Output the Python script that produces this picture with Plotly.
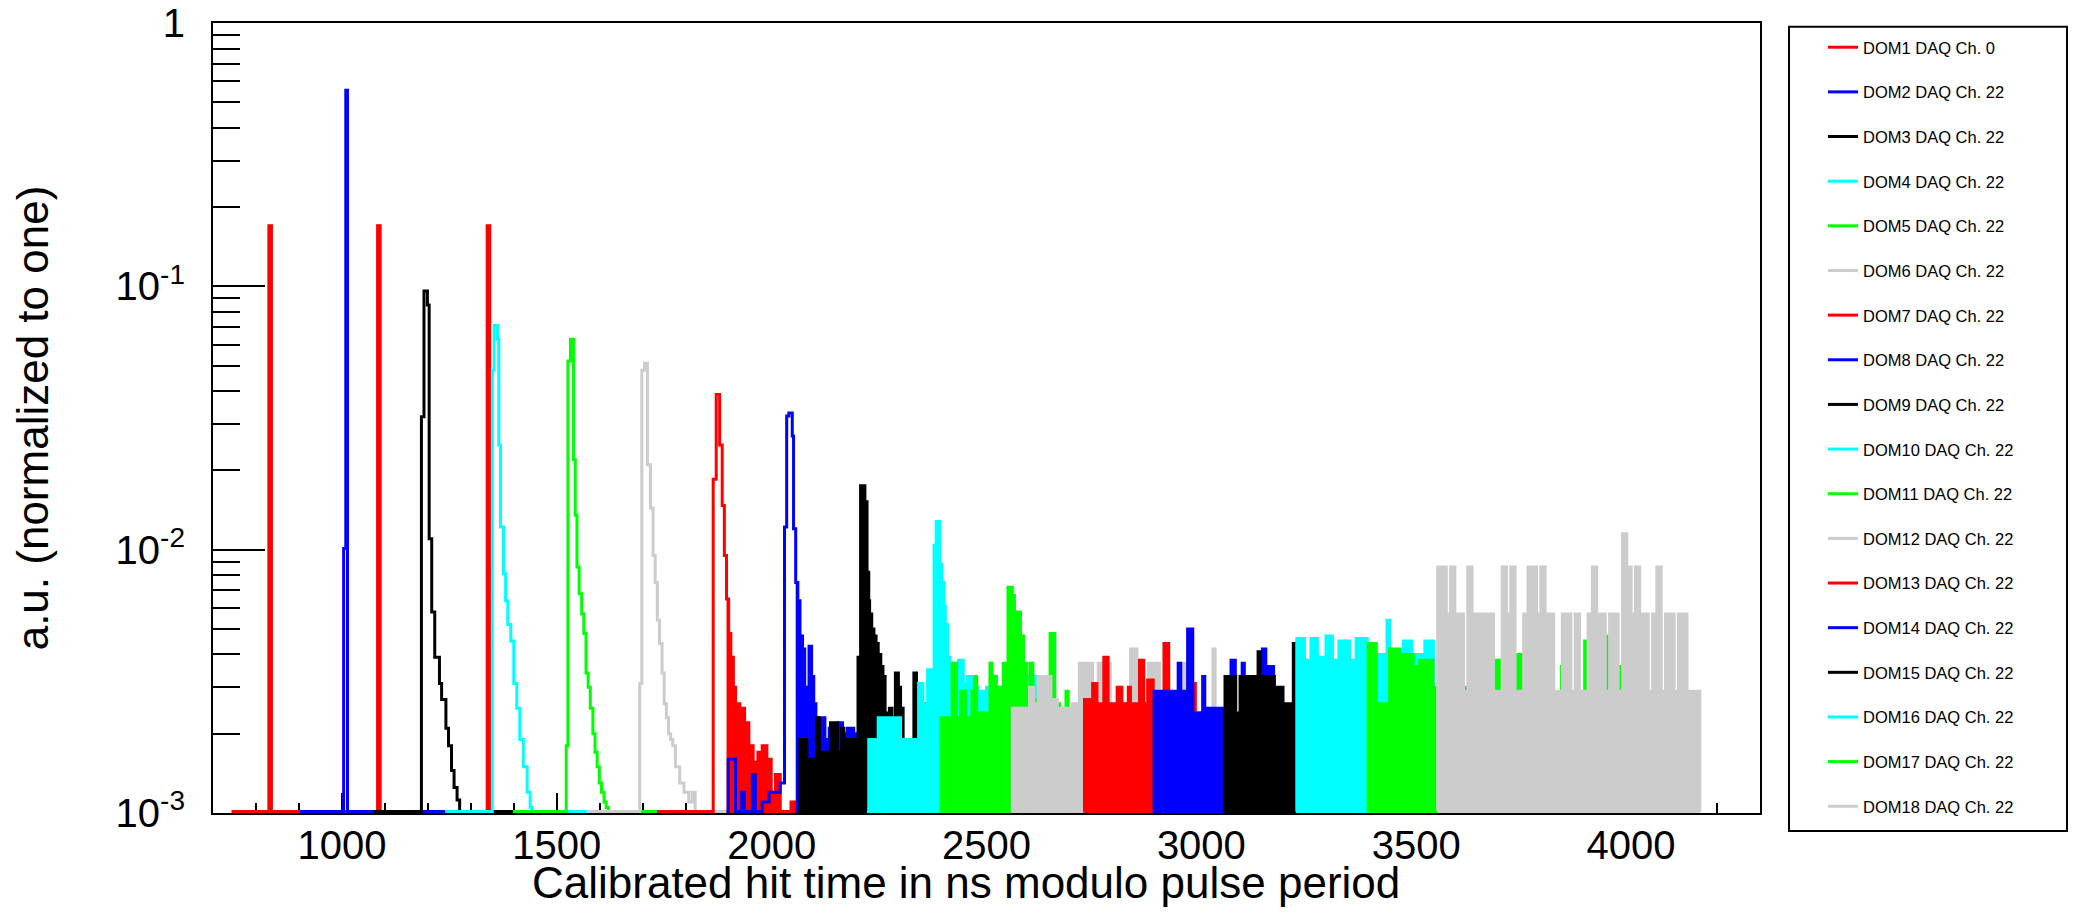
import plotly.graph_objects as go

# ---------------- data ----------------
NAMES = ["DOM1 DAQ Ch. 0", "DOM2 DAQ Ch. 22", "DOM3 DAQ Ch. 22", "DOM4 DAQ Ch. 22",
         "DOM5 DAQ Ch. 22", "DOM6 DAQ Ch. 22", "DOM7 DAQ Ch. 22", "DOM8 DAQ Ch. 22",
         "DOM9 DAQ Ch. 22", "DOM10 DAQ Ch. 22", "DOM11 DAQ Ch. 22", "DOM12 DAQ Ch. 22",
         "DOM13 DAQ Ch. 22", "DOM14 DAQ Ch. 22", "DOM15 DAQ Ch. 22", "DOM16 DAQ Ch. 22",
         "DOM17 DAQ Ch. 22", "DOM18 DAQ Ch. 22"]
COLORS = ["#ff0000", "#0000ff", "#000000", "#00ffff", "#00ff00", "#cccccc"] * 3
X_TITLE = "Calibrated hit time in ns modulo pulse period"
Y_TITLE = "a.u. (normalized to one)"

# bin edges (ns) and normalised bin contents (0 = empty bin)
EDGES_DOM1 = [743, 830, 836, 1083, 1089, 1338, 1344, 1363]
VALUES_DOM1 = [0, 0.17, 0, 0.17, 0, 0.17, 0]

EDGES_DOM2 = [902, 1004, 1009, 1013, 1524]
VALUES_DOM2 = [0, 0.0101, 0.556, 0]

EDGES_DOM3 = [1072, 1185, 1191, 1199, 1203, 1209, 1216, 1227, 1232, 1242, 1248, 1255, 1261, 1268, 1274, 1400]
VALUES_DOM3 = [0, 0.032, 0.096, 0.085, 0.011, 0.0058, 0.0039, 0.0031, 0.0027, 0.0021, 0.0018, 0.00145, 0.00125, 0.00112, 0]

EDGES_DOM4 = [1240, 1350, 1354, 1362, 1365, 1369, 1376, 1381, 1386, 1393, 1400, 1407, 1414, 1422, 1431, 1438, 1443, 1570]
VALUES_DOM4 = [0, 0.048, 0.071, 0.063, 0.025, 0.0122, 0.0081, 0.0064, 0.0052, 0.0045, 0.0031, 0.0025, 0.0019, 0.0015, 0.0012, 0.00105, 0]

EDGES_DOM5 = [1398, 1522, 1526, 1532, 1539, 1543, 1547, 1552, 1558, 1563, 1568, 1573, 1578, 1584, 1589, 1594, 1599, 1604, 1610, 1615, 1620, 1733]
VALUES_DOM5 = [0, 0.0018, 0.052, 0.063, 0.022, 0.0135, 0.0086, 0.0068, 0.0057, 0.0048, 0.0034, 0.0030, 0.0025, 0.0020, 0.0017, 0.0015, 0.0013, 0.0012, 0.0011, 0.00105, 0]

EDGES_DOM6 = [1570, 1693, 1698, 1704, 1711, 1718, 1724, 1729, 1734, 1739, 1745, 1750, 1755, 1760, 1765, 1770, 1776, 1786, 1796, 1807, 1815, 1822, 1895]
VALUES_DOM6 = [0, 0.0031, 0.048, 0.051, 0.021, 0.0144, 0.0095, 0.0075, 0.0054, 0.0044, 0.0034, 0.0026, 0.0023, 0.0020, 0.0019, 0.0018, 0.0015, 0.0013, 0.0012, 0.0011, 0.0012, 0]

EDGES_DOM7 = [1733, 1864, 1871, 1879, 1885, 1890, 1895, 1900, 1905, 1911, 1916, 1926, 1937, 1947, 1957, 1968, 1978, 1989, 1999, 2009, 2020, 2045, 2061, 2230]
VALUES_DOM7 = [0, 0.0185, 0.0388, 0.025, 0.0147, 0.0095, 0.0065, 0.0048, 0.0039, 0.0030, 0.0026, 0.0025, 0.0022, 0.0018, 0.00156, 0.0017, 0.0018, 0.0016, 0.0012, 0.0014, 0, 0.0011, 0]

EDGES_DOM8 = [1895, 1899, 1916, 1930, 1937, 1955, 1962, 1978, 1994, 2020, 2030, 2035, 2040, 2048, 2051, 2056, 2061, 2066, 2072, 2077, 2082,
              2087, 2093, 2098, 2103, 2108, 2113, 2124, 2134, 2144, 2155, 2165, 2176, 2191, 2207, 2227, 2392]
VALUES_DOM8 = [0, 0.0016, 0, 0.0012, 0, 0.0014, 0, 0.0011, 0.0012, 0.0013, 0.0122, 0.0322, 0.033, 0.027, 0.012, 0.0075, 0.0064, 0.0047, 0.0042, 0.0030,
               0.0026, 0.0043, 0.0033, 0.0026, 0.0023, 0.0021, 0.0023, 0.0019, 0.0021, 0.0019, 0.0022, 0.0020, 0.0021, 0.0020, 0.0018, 0]

EDGES_DOM9 = [2060, 2066, 2082, 2105, 2111, 2137, 2144, 2147, 2153, 2163, 2168, 2176, 2191, 2201, 2207, 2217, 2222, 2226, 2228, 2233,
              2238, 2243, 2248, 2254, 2259, 2264, 2274, 2280, 2288, 2295, 2300, 2306, 2316, 2331, 2337, 2347, 2357, 2383, 2394, 2560]
VALUES_DOM9 = [0, 0.0019, 0.0016, 0.0023, 0.0017, 0.0022, 0.0017, 0.0022, 0.0017, 0.0021, 0.0019, 0.0019, 0.0019, 0.0039, 0.0175, 0.0152, 0.0082, 0.0064, 0.0057, 0.0050,
               0.0047, 0.0044, 0.0040, 0.0036, 0.0033, 0.0024, 0.0025, 0.0023, 0.0034, 0.0030, 0.0025, 0.0019, 0.0019, 0.0034, 0.0025, 0.0026, 0, 0.0013, 0]

EDGES_DOM10 = [2222, 2226, 2248, 2300, 2306, 2342, 2352, 2363, 2378, 2383, 2391, 2396, 2401, 2404, 2410, 2415, 2420, 2430, 2435, 2446,
               2456, 2466, 2480, 2500, 2520, 2540, 2560, 2580, 2600, 2620, 2726]
VALUES_DOM10 = [0, 0.0019, 0.0023, 0.0019, 0.0019, 0.0031, 0.0026, 0.0035, 0.0104, 0.0128, 0.0088, 0.0075, 0.0061, 0.0052, 0.0039, 0.0034, 0.0037, 0.0035, 0.0038, 0.0031,
                0.0033, 0.0030, 0.0029, 0.0030, 0.0029, 0.0031, 0.0028, 0.0029, 0.0033, 0]

EDGES_DOM11 = [2392, 2394, 2420, 2430, 2440, 2451, 2466, 2472, 2477, 2482, 2508, 2513, 2518, 2523, 2529, 2534, 2539, 2544, 2550, 2560,
               2565, 2572, 2579, 2586, 2593, 2601, 2608, 2620, 2648, 2659, 2670, 2685, 2690, 2700, 2888]
VALUES_DOM11 = [0, 0.0023, 0.0037, 0.0023, 0.0029, 0.0023, 0.0029, 0.0033, 0.0023, 0.0024, 0.0037, 0.0024, 0.0033, 0.0024, 0.0030, 0.0024, 0.0037, 0.0026, 0.0072, 0.0067,
                0.0057, 0.0058, 0.0047, 0.0037, 0.0030, 0.0037, 0.0027, 0.0026, 0.0048, 0.0026, 0.0025, 0.0029, 0.0025, 0]

EDGES_DOM12 = [2558, 2560, 2600, 2610, 2620, 2650, 2665, 2700, 2716, 2747, 2760, 2788, 2800, 2835, 2850, 2877, 2903, 2955, 2965, 3027, 3032, 3060]
VALUES_DOM12 = [0, 0.0025, 0.0030, 0.0026, 0.0033, 0.0027, 0.0025, 0.0026, 0.0037, 0.0026, 0.0037, 0.0025, 0.0026, 0.0042, 0.0026, 0.0037, 0.0025, 0.0037, 0.0024, 0.0042, 0]

EDGES_DOM13 = [2726, 2728, 2747, 2757, 2773, 2783, 2804, 2815, 2830, 2835, 2856, 2866, 2875, 2888, 2913, 2924, 2970, 2986, 3059, 3069, 3220]
VALUES_DOM13 = [0, 0.0027, 0.0031, 0.0026, 0.0039, 0.0026, 0.0030, 0.0026, 0.0030, 0.0026, 0.0038, 0.0026, 0.0032, 0.0025, 0.0044, 0.0024, 0.0031, 0.0024, 0.0031, 0]

EDGES_DOM14 = [2888, 2890, 2946, 2952, 2968, 2980, 3003, 3008, 3053, 3069, 3079, 3095, 3100, 3142, 3150, 3168, 3329, 3339, 3386]
VALUES_DOM14 = [0, 0.0029, 0.0037, 0.0029, 0.0050, 0.0024, 0.0033, 0.0025, 0.0020, 0.0038, 0.0020, 0.0037, 0.0020, 0.0042, 0.0036, 0.0020, 0.0042, 0]

EDGES_DOM15 = [3053, 3055, 3080, 3090, 3132, 3137, 3170, 3190, 3214, 3230, 3318, 3349, 3438, 3446, 3508, 3520, 3550]
VALUES_DOM15 = [0, 0.0033, 0.0024, 0.0033, 0.0041, 0.0033, 0.0030, 0.0026, 0.0044, 0.0022, 0.0032, 0.0022, 0.0040, 0.0022, 0.0040, 0]

EDGES_DOM16 = [3220, 3222, 3240, 3255, 3270, 3290, 3305, 3320, 3345, 3360, 3386, 3432, 3438, 3470, 3490, 3520, 3540, 3550]
VALUES_DOM16 = [0, 0.0046, 0.0038, 0.0046, 0.0039, 0.0047, 0.0038, 0.0045, 0.0038, 0.0046, 0.0040, 0.0054, 0.0041, 0.0045, 0.0040, 0.0045, 0]

EDGES_DOM17 = [3386, 3388, 3407, 3438, 3462, 3493, 3508, 3539, 3550, 3613, 3621, 3681, 3700, 3729, 3745, 3838, 3843, 3892, 3900, 3941, 3945, 3970, 3981, 4160]
VALUES_DOM17 = [0, 0.0044, 0.0026, 0.0042, 0.0040, 0.0036, 0.0038, 0.0030, 0, 0.0030, 0, 0.0038, 0, 0.0040, 0, 0.0036, 0, 0.0045, 0, 0.0047, 0, 0.0036, 0]

EDGES_DOM18 = list(range(3550, 4161, 10))
VALUES_DOM18 = [0.0086, 0.0086, 0.0057, 0.0086, 0.0057, 0.0057, 0.0029, 0.0086, 0.0057, 0.0057,
                0.0057, 0.0057, 0.0057, 0.0029, 0.0029, 0.0086, 0.0057, 0.0086, 0.0029, 0.0029,
                0.0057, 0.0086, 0.0086, 0.0057, 0.0086, 0.0057, 0.0057, 0.0029, 0.0029, 0.0057,
                0.0057, 0.0029, 0.0057, 0.0029, 0.0029, 0.0057, 0.0086, 0.0057, 0.0057, 0.0029,
                0.0057, 0.0057, 0.0029, 0.0115, 0.0086, 0.0057, 0.0086, 0.0057, 0.0057, 0.0029,
                0.0057, 0.0086, 0.0029, 0.0057, 0.0057, 0.0029, 0.0057, 0.0057, 0.0029, 0.0029,
                0.0029]

# histograms whose dense, low-count region renders as a solid block start filling here
FILL_FROM = [None, None, None, None, None, None, 1895, 2056, 2060, 2222, 2392, 2558,
             2726, 2888, 3053, 3220, 3386, 3550]

EDGES = [EDGES_DOM1, EDGES_DOM2, EDGES_DOM3, EDGES_DOM4, EDGES_DOM5, EDGES_DOM6,
         EDGES_DOM7, EDGES_DOM8, EDGES_DOM9, EDGES_DOM10, EDGES_DOM11, EDGES_DOM12,
         EDGES_DOM13, EDGES_DOM14, EDGES_DOM15, EDGES_DOM16, EDGES_DOM17, EDGES_DOM18]
VALUES = [VALUES_DOM1, VALUES_DOM2, VALUES_DOM3, VALUES_DOM4, VALUES_DOM5, VALUES_DOM6,
          VALUES_DOM7, VALUES_DOM8, VALUES_DOM9, VALUES_DOM10, VALUES_DOM11, VALUES_DOM12,
          VALUES_DOM13, VALUES_DOM14, VALUES_DOM15, VALUES_DOM16, VALUES_DOM17, VALUES_DOM18]

Y_TICKS = [0.001, 0.01, 0.1, 1]
Y_TICKTEXT = ["10<sup>-3</sup>", "10<sup>-2</sup>", "10<sup>-1</sup>", "1"]
Y_MINOR = [m * d for d in (0.001, 0.01, 0.1) for m in range(2, 10)]
X_TICKS = [1000, 1500, 2000, 2500, 3000, 3500, 4000]

FLOOR = 1.013e-3  # empty bins are drawn along the bottom of the frame (ROOT style)


def step_xy(edges, vals):
    x = [edges[0]]
    y = [FLOOR]
    for e, v in zip(edges[:-1], vals):
        x.append(e)
        y.append(v if v > 0 else FLOOR)
    x.append(edges[-1])
    y.append(vals[-1] if vals[-1] > 0 else FLOOR)
    x.append(edges[-1])
    y.append(FLOOR)
    return x, y


fig = go.Figure()
for i, (name, color, edges, vals, ff) in enumerate(zip(NAMES, COLORS, EDGES, VALUES, FILL_FROM)):
    grp = "dom%d" % (i + 1)
    if ff is not None:
        idx = [k for k in range(len(vals)) if edges[k] >= ff]
        fe = [edges[k] for k in idx] + [edges[idx[-1] + 1]]
        fv = [vals[k] for k in idx]
        fx, fy = step_xy(fe, fv)
        fig.add_trace(go.Scatter(x=fx, y=fy, mode="lines", line=dict(shape="hv", width=0, color=color),
                                 fill="tozeroy", fillcolor=color, legendgroup=grp, showlegend=False,
                                 hoverinfo="skip"))
    x, y = step_xy(edges, vals)
    fig.add_trace(go.Scatter(x=x, y=y, mode="lines", name=name, legendgroup=grp,
                             line=dict(shape="hv", width=3, color=color)))

FONT = "Liberation Sans, Arial, Helvetica, sans-serif"

# figure geometry (the page adds an 8 px body margin around the figure)
W, H = 2062, 899
ML, MT, PW, PH = 205, 15, 1547, 790
MR, MB = W - ML - PW, H - MT - PH


def px(xf):
    return (xf - ML) / PW


def py(yf):
    return (MT + PH - yf) / PH


fig.update_layout(
    width=W, height=H,
    margin=dict(l=ML, r=MR, t=MT, b=MB, autoexpand=False),
    paper_bgcolor="white", plot_bgcolor="white",
    font=dict(family=FONT, color="black"),
    showlegend=True,
    legend=dict(x=px(1815), xanchor="left", yref="container", y=1 - 22 / H, yanchor="top",
                font=dict(size=16.5, family=FONT, color="black"), tracegroupgap=20.2,
                bgcolor="rgba(0,0,0,0)", borderwidth=0, itemclick=False, itemdoubleclick=False),
    shapes=[dict(type="rect", xref="paper", yref="paper",
                 x0=px(1781), x1=px(2059), y0=py(823), y1=py(18.7),
                 line=dict(color="black", width=2), fillcolor="rgba(0,0,0,0)")],
    annotations=[dict(text=X_TITLE, xref="paper", yref="paper", x=px(958), y=py(849),
                      xanchor="center", yanchor="top", showarrow=False, borderpad=0,
                      font=dict(size=44, family=FONT, color="black"))],
)
try:
    fig.update_layout(legend_maxheight=H)
except Exception:
    pass

fig.update_xaxes(
    range=[700, 4300], showgrid=False, zeroline=False,
    showline=True, mirror=True, linecolor="black", linewidth=2,
    ticks="inside", ticklen=20, tickwidth=2, tickcolor="black",
    tickvals=X_TICKS, tickfont=dict(size=40, family=FONT, color="black"),
    ticklabelstandoff=-4, ticklabeloverflow="allow",
    minor=dict(ticks="inside", ticklen=10, tickwidth=2, tickcolor="black", dtick=100, tick0=0),
    layer="below traces",
)
fig.update_yaxes(
    type="log", range=[-3, 0], showgrid=False, zeroline=False,
    showline=True, mirror=True, linecolor="black", linewidth=2,
    ticks="inside", ticklen=52, tickwidth=2, tickcolor="black",
    tickvals=Y_TICKS, ticktext=Y_TICKTEXT, tickfont=dict(size=40, family=FONT, color="black"),
    ticklabelstandoff=18, ticklabeloverflow="allow",
    minor=dict(ticks="inside", ticklen=27, tickwidth=2, tickcolor="black", tickvals=Y_MINOR),
    layer="below traces",
    title=dict(text=Y_TITLE, font=dict(size=44, family=FONT, color="black"), standoff=57),
)

fig.write_html("out.html")
